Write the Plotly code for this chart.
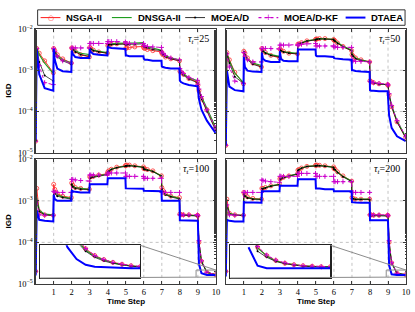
import math
import plotly.graph_objects as go

# ---------------- data (IGD values) ----------------
STEPS = list(range(10))
OFFSETS = [0.0, 0.06, 0.2, 0.5, 0.98]          # sample positions inside each time step
TIME = [s + o for s in STEPS for o in OFFSETS]

ALGOS = ["NSGA-II", "DNSGA-II", "MOEA/D", "MOEA/D-KF", "DTAEA"]
TAUS = [25, 50, 100, 200]
XTICKS = [1, 2, 3, 4, 5, 6, 7, 8, 9, 10]
YTICKS = [1e-5, 1e-4, 1e-3, 1e-2]
YTICK_TEXT = ["10<sup>−5</sup>", "10<sup>−4</sup>", "10<sup>−3</sup>", "10<sup>−2</sup>"]

# tau_t = 25
NSGA2_T25 = [
    [1.9e-5, 3.4e-3, 2.6e-3, 1.7e-3, 8.7e-4], [3.4e-3, 3.0e-3, 2.4e-3, 1.9e-3, 1.5e-3],
    [3.5e-3, 3.3e-3, 2.9e-3, 2.4e-3, 2.1e-3], [3.6e-3, 3.4e-3, 3.1e-3, 2.8e-3, 2.6e-3],
    [4.0e-3, 4.1e-3, 4.3e-3, 4.4e-3, 4.5e-3], [3.4e-3, 3.5e-3, 3.6e-3, 3.7e-3, 3.8e-3],
    [3.5e-3, 3.4e-3, 3.2e-3, 3.0e-3, 2.8e-3], [2.6e-3, 2.4e-3, 2.1e-3, 1.9e-3, 1.7e-3],
    [9.5e-4, 8.8e-4, 8.0e-4, 6.3e-4, 5.2e-4], [4.3e-4, 3.2e-4, 2.0e-4, 1.1e-4, 3.8e-5]]
DNSGA2_T25 = [
    [1.9e-5, 3.4e-3, 2.4e-3, 1.5e-3, 8.3e-4], [3.4e-3, 3.0e-3, 2.3e-3, 1.8e-3, 1.5e-3],
    [3.5e-3, 3.3e-3, 3.0e-3, 2.6e-3, 2.4e-3], [3.5e-3, 3.4e-3, 3.1e-3, 2.9e-3, 2.7e-3],
    [4.3e-3, 4.3e-3, 4.4e-3, 4.5e-3, 4.6e-3], [4.4e-3, 4.5e-3, 4.6e-3, 4.6e-3, 4.7e-3],
    [4.0e-3, 3.9e-3, 3.7e-3, 3.5e-3, 3.1e-3], [2.8e-3, 2.6e-3, 2.3e-3, 2.0e-3, 1.8e-3],
    [1.0e-3, 9.2e-4, 8.2e-4, 6.6e-4, 5.6e-4], [4.6e-4, 3.5e-4, 2.3e-4, 1.2e-4, 4.2e-5]]
MOEAD_T25 = [
    [1.9e-5, 3.4e-3, 1.6e-3, 7.5e-4, 5.5e-4], [3.4e-3, 2.8e-3, 2.1e-3, 1.7e-3, 1.4e-3],
    [3.5e-3, 3.2e-3, 2.8e-3, 2.4e-3, 2.2e-3], [3.5e-3, 3.3e-3, 3.0e-3, 2.8e-3, 2.6e-3],
    [4.2e-3, 4.2e-3, 4.2e-3, 4.3e-3, 4.3e-3], [4.1e-3, 4.2e-3, 4.3e-3, 4.3e-3, 4.4e-3],
    [3.8e-3, 3.7e-3, 3.5e-3, 3.2e-3, 3.0e-3], [2.6e-3, 2.4e-3, 2.1e-3, 1.9e-3, 1.7e-3],
    [9.5e-4, 8.6e-4, 7.6e-4, 6.1e-4, 5.0e-4], [4.2e-4, 3.2e-4, 2.0e-4, 1.0e-4, 3.5e-5]]
MOEADKF_T25 = [
    [1.9e-5, 3.4e-3, 1.3e-3, 5.0e-4, 4.5e-4], [3.4e-3, 2.9e-3, 2.2e-3, 1.7e-3, 1.5e-3],
    [3.5e-3, 3.5e-3, 3.5e-3, 3.5e-3, 3.5e-3], [4.5e-3, 4.5e-3, 4.5e-3, 4.5e-3, 4.5e-3],
    [5.0e-3, 5.0e-3, 5.0e-3, 5.0e-3, 4.9e-3], [4.5e-3, 4.5e-3, 4.5e-3, 4.5e-3, 4.5e-3],
    [4.0e-3, 3.9e-3, 3.8e-3, 3.7e-3, 3.6e-3], [2.8e-3, 2.6e-3, 2.3e-3, 2.0e-3, 1.8e-3],
    [1.1e-3, 9.6e-4, 8.4e-4, 6.7e-4, 5.7e-4], [4.6e-4, 3.5e-4, 2.3e-4, 1.1e-4, 4.0e-5]]
DTAEA_T25 = [
    [1.9e-5, 3.2e-3, 8.0e-4, 3.7e-4, 3.2e-4], [3.3e-3, 1.8e-3, 1.1e-3, 9.5e-4, 9.1e-4],
    [3.0e-3, 2.5e-3, 2.1e-3, 2.0e-3, 2.0e-3], [3.3e-3, 2.8e-3, 2.5e-3, 2.4e-3, 2.3e-3],
    [3.8e-3, 3.6e-3, 3.5e-3, 3.4e-3, 3.3e-3], [2.3e-3, 2.3e-3, 2.2e-3, 2.2e-3, 2.2e-3],
    [1.9e-3, 1.8e-3, 1.8e-3, 1.7e-3, 1.7e-3], [1.25e-3, 1.2e-3, 1.15e-3, 1.1e-3, 1.1e-3],
    [5.6e-4, 5.2e-4, 4.8e-4, 4.4e-4, 4.1e-4], [3.0e-4, 2.0e-4, 1.1e-4, 6.0e-5, 3.0e-5]]

# tau_t = 50
NSGA2_T50 = [
    [1.5e-5, 2.7e-3, 1.8e-3, 9.0e-4, 4.7e-4], [2.9e-3, 2.6e-3, 2.0e-3, 1.5e-3, 1.2e-3],
    [3.4e-3, 3.1e-3, 2.7e-3, 2.3e-3, 2.0e-3], [3.3e-3, 3.1e-3, 2.9e-3, 2.6e-3, 2.5e-3],
    [4.3e-3, 4.4e-3, 4.7e-3, 5.2e-3, 5.6e-3], [5.7e-3, 5.8e-3, 5.9e-3, 5.9e-3, 5.6e-3],
    [5.4e-3, 5.2e-3, 4.6e-3, 3.8e-3, 3.0e-3], [2.4e-3, 2.2e-3, 2.0e-3, 1.8e-3, 1.6e-3],
    [5.6e-4, 5.3e-4, 5.0e-4, 4.7e-4, 4.5e-4], [4.3e-4, 2.5e-4, 1.3e-4, 5.6e-5, 2.3e-5]]
DNSGA2_T50 = [
    [1.5e-5, 2.6e-3, 1.7e-3, 8.5e-4, 5.0e-4], [2.8e-3, 2.5e-3, 1.9e-3, 1.5e-3, 1.3e-3],
    [3.2e-3, 3.0e-3, 2.7e-3, 2.4e-3, 2.2e-3], [3.2e-3, 3.0e-3, 2.8e-3, 2.7e-3, 2.6e-3],
    [4.3e-3, 4.4e-3, 4.7e-3, 5.2e-3, 5.6e-3], [5.7e-3, 5.8e-3, 5.9e-3, 5.9e-3, 5.7e-3],
    [5.4e-3, 5.2e-3, 4.7e-3, 3.9e-3, 3.1e-3], [2.5e-3, 2.3e-3, 2.0e-3, 1.8e-3, 1.6e-3],
    [5.8e-4, 5.4e-4, 5.0e-4, 4.8e-4, 4.6e-4], [4.4e-4, 2.6e-4, 1.4e-4, 6.0e-5, 2.4e-5]]
MOEAD_T50 = [
    [1.5e-5, 2.6e-3, 1.5e-3, 7.0e-4, 4.8e-4], [2.8e-3, 2.4e-3, 1.8e-3, 1.4e-3, 1.2e-3],
    [3.2e-3, 2.9e-3, 2.6e-3, 2.3e-3, 2.1e-3], [3.2e-3, 3.0e-3, 2.8e-3, 2.6e-3, 2.5e-3],
    [4.2e-3, 4.3e-3, 4.6e-3, 5.1e-3, 5.5e-3], [5.6e-3, 5.7e-3, 5.8e-3, 5.8e-3, 5.6e-3],
    [5.3e-3, 5.1e-3, 4.5e-3, 3.7e-3, 3.0e-3], [2.4e-3, 2.2e-3, 1.9e-3, 1.7e-3, 1.6e-3],
    [5.6e-4, 5.2e-4, 4.9e-4, 4.6e-4, 4.5e-4], [4.3e-4, 2.5e-4, 1.3e-4, 5.5e-5, 2.3e-5]]
MOEADKF_T50 = [
    [1.5e-5, 2.5e-3, 1.2e-3, 5.5e-4, 4.8e-4], [2.7e-3, 2.2e-3, 1.8e-3, 1.6e-3, 1.6e-3],
    [3.4e-3, 3.4e-3, 3.4e-3, 3.4e-3, 3.3e-3], [4.1e-3, 4.1e-3, 4.1e-3, 4.1e-3, 4.1e-3],
    [4.1e-3, 4.2e-3, 4.3e-3, 4.4e-3, 4.5e-3], [3.9e-3, 3.9e-3, 3.9e-3, 3.9e-3, 3.9e-3],
    [3.7e-3, 3.7e-3, 3.6e-3, 3.6e-3, 3.6e-3], [1.7e-3, 1.7e-3, 1.65e-3, 1.65e-3, 1.6e-3],
    [5.4e-4, 5.2e-4, 5.0e-4, 4.8e-4, 4.6e-4], [4.4e-4, 2.7e-4, 1.4e-4, 6.0e-5, 2.5e-5]]
DTAEA_T50 = [
    [1.5e-5, 1.0e-3, 4.0e-4, 3.3e-4, 3.1e-4], [2.1e-3, 1.2e-3, 9.8e-4, 9.3e-4, 9.1e-4],
    [2.7e-3, 1.9e-3, 1.7e-3, 1.6e-3, 1.6e-3], [2.9e-3, 1.9e-3, 1.7e-3, 1.65e-3, 1.65e-3],
    [3.2e-3, 3.2e-3, 3.2e-3, 3.2e-3, 3.2e-3], [2.3e-3, 2.2e-3, 2.2e-3, 2.2e-3, 2.1e-3],
    [2.0e-3, 1.95e-3, 1.9e-3, 1.85e-3, 1.8e-3], [1.0e-3, 1.0e-3, 9.6e-4, 9.3e-4, 9.1e-4],
    [3.3e-4, 3.2e-4, 3.2e-4, 3.1e-4, 3.1e-4], [2.0e-4, 8.0e-5, 4.0e-5, 2.5e-5, 1.9e-5]]

# tau_t = 100
NSGA2_T100 = [
    [2.0e-5, 2.0e-3, 5.5e-4, 4.6e-4, 4.5e-4], [2.5e-3, 1.9e-3, 1.5e-3, 1.3e-3, 1.2e-3],
    [2.7e-3, 2.4e-3, 2.1e-3, 2.0e-3, 1.9e-3], [3.8e-3, 3.8e-3, 3.9e-3, 4.2e-3, 4.5e-3],
    [5.0e-3, 5.3e-3, 5.8e-3, 6.5e-3, 7.0e-3], [7.2e-3, 7.3e-3, 7.3e-3, 7.0e-3, 6.6e-3],
    [6.0e-3, 5.9e-3, 5.7e-3, 5.3e-3, 4.0e-3], [2.1e-3, 1.8e-3, 1.5e-3, 1.3e-3, 1.2e-3],
    [4.8e-4, 4.7e-4, 4.6e-4, 4.6e-4, 4.5e-4], [4.4e-4, 1.0e-4, 3.5e-5, 1.9e-5, 1.66e-5]]
DNSGA2_T100 = [
    [2.0e-5, 1.2e-3, 6.0e-4, 4.8e-4, 4.6e-4], [1.8e-3, 1.6e-3, 1.4e-3, 1.25e-3, 1.15e-3],
    [2.6e-3, 2.3e-3, 2.1e-3, 2.0e-3, 1.9e-3], [3.7e-3, 3.7e-3, 3.8e-3, 4.1e-3, 4.4e-3],
    [5.0e-3, 5.3e-3, 5.8e-3, 6.4e-3, 6.9e-3], [7.0e-3, 7.1e-3, 7.1e-3, 6.9e-3, 6.5e-3],
    [5.9e-3, 5.8e-3, 5.6e-3, 5.2e-3, 4.0e-3], [2.0e-3, 1.7e-3, 1.45e-3, 1.3e-3, 1.15e-3],
    [4.7e-4, 4.6e-4, 4.6e-4, 4.5e-4, 4.5e-4], [4.4e-4, 1.0e-4, 3.5e-5, 1.9e-5, 1.66e-5]]
MOEAD_T100 = [
    [2.0e-5, 1.0e-3, 5.5e-4, 4.6e-4, 4.4e-4], [1.7e-3, 1.5e-3, 1.3e-3, 1.2e-3, 1.1e-3],
    [2.5e-3, 2.2e-3, 2.0e-3, 1.9e-3, 1.85e-3], [3.6e-3, 3.6e-3, 3.7e-3, 4.0e-3, 4.3e-3],
    [4.9e-3, 5.2e-3, 5.7e-3, 6.3e-3, 6.8e-3], [6.9e-3, 7.0e-3, 7.0e-3, 6.8e-3, 6.4e-3],
    [5.8e-3, 5.7e-3, 5.5e-3, 5.1e-3, 3.9e-3], [1.9e-3, 1.65e-3, 1.4e-3, 1.25e-3, 1.1e-3],
    [4.6e-4, 4.5e-4, 4.5e-4, 4.4e-4, 4.4e-4], [4.3e-4, 9.5e-5, 3.4e-5, 1.9e-5, 1.66e-5]]
MOEADKF_T100 = [
    [2.0e-5, 1.0e-3, 4.6e-4, 4.5e-4, 4.5e-4], [1.7e-3, 1.6e-3, 1.6e-3, 1.6e-3, 1.6e-3],
    [3.3e-3, 3.3e-3, 3.2e-3, 3.1e-3, 3.0e-3], [4.2e-3, 4.2e-3, 4.2e-3, 4.2e-3, 4.2e-3],
    [4.7e-3, 4.7e-3, 4.7e-3, 4.7e-3, 4.7e-3], [3.9e-3, 3.9e-3, 3.9e-3, 3.9e-3, 3.9e-3],
    [3.5e-3, 3.5e-3, 3.5e-3, 3.5e-3, 3.5e-3], [1.6e-3, 1.6e-3, 1.6e-3, 1.6e-3, 1.6e-3],
    [4.6e-4, 4.6e-4, 4.6e-4, 4.6e-4, 4.6e-4], [4.4e-4, 1.1e-4, 3.6e-5, 1.9e-5, 1.67e-5]]
DTAEA_T100 = [
    [1.6e-5, 5.9e-4, 3.5e-4, 3.3e-4, 3.2e-4], [1.4e-3, 1.1e-3, 1.0e-3, 1.0e-3, 1.0e-3],
    [1.8e-3, 1.7e-3, 1.65e-3, 1.6e-3, 1.6e-3], [2.5e-3, 2.5e-3, 2.5e-3, 2.5e-3, 2.5e-3],
    [3.5e-3, 3.5e-3, 3.5e-3, 3.5e-3, 3.5e-3], [2.0e-3, 2.0e-3, 2.0e-3, 2.0e-3, 1.95e-3],
    [1.75e-3, 1.75e-3, 1.7e-3, 1.7e-3, 1.7e-3], [1.0e-3, 1.0e-3, 1.0e-3, 1.0e-3, 1.0e-3],
    [3.4e-4, 3.4e-4, 3.4e-4, 3.4e-4, 3.3e-4], [3.2e-4, 3.0e-5, 1.8e-5, 1.64e-5, 1.63e-5]]

# tau_t = 200
NSGA2_T200 = [
    [2.0e-5, 1.1e-3, 5.0e-4, 4.6e-4, 4.5e-4], [1.6e-3, 1.4e-3, 1.25e-3, 1.15e-3, 1.1e-3],
    [2.0e-3, 2.0e-3, 2.1e-3, 2.3e-3, 2.5e-3], [3.4e-3, 3.5e-3, 3.7e-3, 4.0e-3, 4.5e-3],
    [5.5e-3, 5.7e-3, 6.2e-3, 6.8e-3, 7.2e-3], [7.2e-3, 7.3e-3, 7.2e-3, 7.0e-3, 6.6e-3],
    [6.0e-3, 5.8e-3, 5.0e-3, 4.0e-3, 3.0e-3], [1.2e-3, 1.15e-3, 1.1e-3, 1.1e-3, 1.1e-3],
    [4.6e-4, 4.6e-4, 4.5e-4, 4.5e-4, 4.5e-4], [4.4e-4, 1.0e-4, 3.2e-5, 1.8e-5, 1.66e-5]]
DNSGA2_T200 = [
    [2.0e-5, 8.3e-4, 5.0e-4, 4.6e-4, 4.5e-4], [1.5e-3, 1.35e-3, 1.2e-3, 1.12e-3, 1.1e-3],
    [2.0e-3, 2.0e-3, 2.1e-3, 2.3e-3, 2.5e-3], [3.4e-3, 3.5e-3, 3.7e-3, 4.0e-3, 4.5e-3],
    [5.5e-3, 5.7e-3, 6.2e-3, 6.8e-3, 7.1e-3], [7.1e-3, 7.2e-3, 7.1e-3, 6.9e-3, 6.5e-3],
    [5.9e-3, 5.7e-3, 4.9e-3, 3.9e-3, 3.0e-3], [1.2e-3, 1.15e-3, 1.1e-3, 1.1e-3, 1.1e-3],
    [4.6e-4, 4.5e-4, 4.5e-4, 4.5e-4, 4.5e-4], [4.4e-4, 1.0e-4, 3.2e-5, 1.8e-5, 1.66e-5]]
MOEAD_T200 = [
    [2.0e-5, 8.0e-4, 4.8e-4, 4.5e-4, 4.4e-4], [1.45e-3, 1.3e-3, 1.18e-3, 1.1e-3, 1.08e-3],
    [1.95e-3, 1.95e-3, 2.05e-3, 2.25e-3, 2.45e-3], [3.3e-3, 3.4e-3, 3.6e-3, 3.9e-3, 4.4e-3],
    [5.4e-3, 5.6e-3, 6.1e-3, 6.7e-3, 7.0e-3], [7.0e-3, 7.1e-3, 7.0e-3, 6.8e-3, 6.4e-3],
    [5.8e-3, 5.6e-3, 4.8e-3, 3.8e-3, 2.9e-3], [1.18e-3, 1.13e-3, 1.08e-3, 1.08e-3, 1.08e-3],
    [4.5e-4, 4.4e-4, 4.4e-4, 4.4e-4, 4.4e-4], [4.3e-4, 9.5e-5, 3.1e-5, 1.8e-5, 1.66e-5]]
MOEADKF_T200 = [
    [2.0e-5, 8.0e-4, 4.6e-4, 4.5e-4, 4.5e-4], [1.6e-3, 1.6e-3, 1.6e-3, 1.6e-3, 1.6e-3],
    [3.2e-3, 3.1e-3, 3.0e-3, 2.9e-3, 2.8e-3], [3.9e-3, 3.9e-3, 3.9e-3, 3.9e-3, 3.9e-3],
    [4.6e-3, 4.6e-3, 4.6e-3, 4.6e-3, 4.6e-3], [3.9e-3, 3.9e-3, 3.9e-3, 3.9e-3, 3.9e-3],
    [2.9e-3, 2.9e-3, 2.9e-3, 2.9e-3, 2.9e-3], [1.6e-3, 1.6e-3, 1.6e-3, 1.6e-3, 1.6e-3],
    [4.6e-4, 4.6e-4, 4.6e-4, 4.6e-4, 4.6e-4], [4.4e-4, 1.1e-4, 3.3e-5, 1.8e-5, 1.67e-5]]
DTAEA_T200 = [
    [1.5e-5, 3.5e-4, 3.3e-4, 3.2e-4, 3.2e-4], [9.5e-4, 9.3e-4, 9.2e-4, 9.1e-4, 9.0e-4],
    [1.7e-3, 1.7e-3, 1.7e-3, 1.7e-3, 1.7e-3], [2.3e-3, 2.3e-3, 2.3e-3, 2.3e-3, 2.3e-3],
    [3.3e-3, 3.3e-3, 3.3e-3, 3.3e-3, 3.3e-3], [2.0e-3, 2.0e-3, 2.0e-3, 1.9e-3, 1.9e-3],
    [1.7e-3, 1.7e-3, 1.7e-3, 1.7e-3, 1.7e-3], [9.3e-4, 9.2e-4, 9.1e-4, 9.0e-4, 9.0e-4],
    [3.4e-4, 3.4e-4, 3.4e-4, 3.4e-4, 3.4e-4], [3.2e-4, 2.8e-5, 1.7e-5, 1.63e-5, 1.63e-5]]

# zoomed insets (last time step, tau_t = 100 and 200)
INSET_T = [9.1, 9.2, 9.3, 9.4, 9.5, 9.6, 9.7, 9.8, 9.9, 10.0]
INSET_X_RANGE = [8.9, 10.0]
INSET_Y_RANGE = [1.45e-5, 2.15e-5]
INSET_NSGA2_T100 = [4.2e-5, 2.9e-5, 2.35e-5, 2.06e-5, 1.9e-5, 1.81e-5, 1.75e-5, 1.71e-5, 1.68e-5, 1.66e-5]
INSET_DNSGA2_T100 = [4.1e-5, 2.85e-5, 2.3e-5, 2.03e-5, 1.88e-5, 1.8e-5, 1.74e-5, 1.7e-5, 1.68e-5, 1.66e-5]
INSET_MOEAD_T100 = [3.8e-5, 2.7e-5, 2.25e-5, 2.0e-5, 1.86e-5, 1.78e-5, 1.73e-5, 1.7e-5, 1.67e-5, 1.66e-5]
INSET_MOEADKF_T100 = [4.2e-5, 2.9e-5, 2.36e-5, 2.07e-5, 1.9e-5, 1.81e-5, 1.75e-5, 1.71e-5, 1.68e-5, 1.67e-5]
INSET_DTAEA_T100 = [2.8e-5, 2.1e-5, 1.82e-5, 1.7e-5, 1.66e-5, 1.65e-5, 1.64e-5, 1.64e-5, 1.63e-5, 1.63e-5]
INSET_NSGA2_T200 = [3.3e-5, 2.1e-5, 1.9e-5, 1.79e-5, 1.73e-5, 1.7e-5, 1.68e-5, 1.67e-5, 1.66e-5, 1.66e-5]
INSET_DNSGA2_T200 = [3.2e-5, 2.08e-5, 1.89e-5, 1.78e-5, 1.73e-5, 1.7e-5, 1.68e-5, 1.67e-5, 1.66e-5, 1.66e-5]
INSET_MOEAD_T200 = [3.0e-5, 2.0e-5, 1.86e-5, 1.77e-5, 1.72e-5, 1.69e-5, 1.67e-5, 1.66e-5, 1.66e-5, 1.65e-5]
INSET_MOEADKF_T200 = [3.3e-5, 2.12e-5, 1.91e-5, 1.8e-5, 1.74e-5, 1.7e-5, 1.68e-5, 1.67e-5, 1.66e-5, 1.66e-5]
INSET_DTAEA_T200 = [2.1e-5, 1.68e-5, 1.63e-5, 1.63e-5, 1.63e-5, 1.63e-5, 1.63e-5, 1.63e-5, 1.63e-5, 1.63e-5]

# ---------------- styling / layout ----------------
W, H = 415, 312
RED, GREEN, BLACK, MAG, BLUE = "#ff3030", "#1f9e1f", "#000000", "#cc00cc", "#0000ff"
STYLE = {
    "NSGA-II": dict(mode="lines+markers", line=dict(color=RED, width=1),
                    marker=dict(symbol="circle-open", size=4, color=RED, line=dict(width=0.8, color=RED))),
    "DNSGA-II": dict(mode="lines", line=dict(color=GREEN, width=1.1)),
    "MOEA/D": dict(mode="lines+markers", line=dict(color=BLACK, width=0.7),
                   marker=dict(symbol="circle", size=2, color=BLACK)),
    "MOEA/D-KF": dict(mode="lines+markers", line=dict(color=MAG, width=1, dash="dot"),
                      marker=dict(symbol="cross-thin-open", size=3.5, color=MAG, line=dict(width=1, color=MAG))),
    "DTAEA": dict(mode="lines", line=dict(color=BLUE, width=2)),
}
LEGEND_GLYPH = {"NSGA-II": ("○", RED, 7), "MOEA/D": ("•", BLACK, 7), "MOEA/D-KF": ("+", MAG, 8)}
LEGEND_DASH = {"MOEA/D-KF": "dot"}
LEGEND_WIDTH = {"DTAEA": 2, "MOEA/D": 0.8}

# legend box and entry positions (pixels)
LEGEND_BOX = [38, 4, 409, 20]
LEGEND_SYM_X = [41, 113, 187, 261, 349]
LEGEND_SYM_LEN = 20
LEGEND_TEXT_GAP = 4


def px_x(p):
    return p / W


def px_y(p):
    return 1 - p / H


LEFT_DOM = [px_x(36), px_x(218)]
RIGHT_DOM = [px_x(228), px_x(410)]
TOP_DOM = [px_y(152), px_y(24)]
BOT_DOM = [px_y(288), px_y(159)]

PANELS = [
    dict(tau=25, n="", xd=LEFT_DOM, yd=TOP_DOM, ylab=True, xlab=False,
         series=[NSGA2_T25, DNSGA2_T25, MOEAD_T25, MOEADKF_T25, DTAEA_T25]),
    dict(tau=50, n="2", xd=RIGHT_DOM, yd=TOP_DOM, ylab=False, xlab=False,
         series=[NSGA2_T50, DNSGA2_T50, MOEAD_T50, MOEADKF_T50, DTAEA_T50]),
    dict(tau=100, n="3", xd=LEFT_DOM, yd=BOT_DOM, ylab=True, xlab=True,
         series=[NSGA2_T100, DNSGA2_T100, MOEAD_T100, MOEADKF_T100, DTAEA_T100],
         inset=[INSET_NSGA2_T100, INSET_DNSGA2_T100, INSET_MOEAD_T100, INSET_MOEADKF_T100, INSET_DTAEA_T100],
         inset_n="5"),
    dict(tau=200, n="4", xd=RIGHT_DOM, yd=BOT_DOM, ylab=False, xlab=True,
         series=[NSGA2_T200, DNSGA2_T200, MOEAD_T200, MOEADKF_T200, DTAEA_T200],
         inset=[INSET_NSGA2_T200, INSET_DNSGA2_T200, INSET_MOEAD_T200, INSET_MOEADKF_T200, INSET_DTAEA_T200],
         inset_n="6"),
]

# inset placement as fractions of its host panel
INSET_FX = [0.025, 0.58]
INSET_FY = [0.047, 0.31]

SERIF = "Liberation Serif, DejaVu Serif, serif"
SANS = "Liberation Sans, Arial, sans-serif"
TICKFONT = dict(family=SERIF, size=8.5, color="#000")
AXCOL = "#3a3a3a"
GRIDCOL = "#b4b4b4"
GRIDLINE = dict(color=GRIDCOL, width=0.8, dash="dot")

fig = go.Figure()
layout = dict(width=W, height=H, margin=dict(l=0, r=0, t=0, b=0), autosize=False,
              plot_bgcolor="white", paper_bgcolor="white", showlegend=False)
annotations = []
shapes = []

for pi, p in enumerate(PANELS):
    n = p["n"]
    xa, ya = "x" + n, "y" + n
    # dotted grid (drawn as lower-layer shapes so the inset can cover it)
    for xv in XTICKS[:-1]:
        shapes.append(dict(type="line", xref=xa, yref=ya + " domain", x0=xv, x1=xv, y0=0, y1=1,
                           line=GRIDLINE, layer="below"))
    for yv in YTICKS[1:-1]:
        shapes.append(dict(type="line", xref=xa + " domain", yref=ya, x0=0, x1=1, y0=yv, y1=yv,
                           line=GRIDLINE, layer="below"))
    for ai, algo in enumerate(ALGOS):
        vals = [v for seg in p["series"][ai] for v in seg]
        fig.add_trace(go.Scatter(x=TIME, y=vals, name=algo, xaxis=xa, yaxis=ya,
                                 showlegend=False, hoverinfo="skip", **STYLE[algo]))
    layout["xaxis" + n] = dict(
        domain=p["xd"], anchor=ya, range=[0, 10], tickmode="array", tickvals=XTICKS,
        showticklabels=p["xlab"], tickfont=TICKFONT, ticks="inside", ticklen=3, tickcolor=AXCOL,
        showline=True, linecolor=AXCOL, linewidth=1.2, mirror="allticks",
        showgrid=False, zeroline=False)
    layout["yaxis" + n] = dict(
        domain=p["yd"], anchor=xa, type="log", range=[-5, -2], tickmode="array",
        tickvals=YTICKS, ticktext=YTICK_TEXT, showticklabels=p["ylab"], tickfont=TICKFONT,
        ticks="inside", ticklen=3, tickcolor=AXCOL,
        minor=dict(ticks="inside", ticklen=1.5, tickcolor=AXCOL, showgrid=False),
        showline=True, linecolor=AXCOL, linewidth=1.2, mirror="allticks",
        showgrid=False, zeroline=False)
    annotations.append(dict(
        text="<i>τ</i><sub><i>t</i></sub>=%d" % p["tau"], xref=xa + " domain", yref=ya + " domain",
        x=0.975, y=0.915, xanchor="right", yanchor="middle", showarrow=False,
        font=dict(family=SERIF, size=10, color="#000")))
    if p["ylab"]:
        annotations.append(dict(
            text="<b>IGD</b>", xref="paper", yref="paper", x=px_x(9), y=sum(p["yd"]) / 2,
            textangle=-90, showarrow=False, xanchor="center", yanchor="middle",
            font=dict(family=SANS, size=8, color="#000")))
    if p["xlab"]:
        annotations.append(dict(
            text="<b>Time Step</b>", xref="paper", yref="paper", x=sum(p["xd"]) / 2, y=px_y(306),
            showarrow=False, xanchor="center", yanchor="middle",
            font=dict(family=SANS, size=8, color="#000")))

    if "inset" in p:
        m = p["inset_n"]
        ixa, iya = "x" + m, "y" + m
        # white cover under the inset (hides host grid)
        shapes.append(dict(type="rect", xref=xa + " domain", yref=ya + " domain",
                           x0=INSET_FX[0], x1=INSET_FX[1], y0=INSET_FY[0], y1=INSET_FY[1],
                           fillcolor="white", line=dict(width=0), layer="below"))
        # zoom window in the host panel
        shapes.append(dict(type="rect", xref=xa, yref=ya,
                           x0=INSET_X_RANGE[0], x1=INSET_X_RANGE[1],
                           y0=INSET_Y_RANGE[0], y1=INSET_Y_RANGE[1],
                           line=dict(color="#8c8c8c", width=1), layer="above"))
        wx0 = INSET_X_RANGE[0] / 10.0
        wx1 = INSET_X_RANGE[1] / 10.0
        wy0 = (math.log10(INSET_Y_RANGE[0]) + 5) / 3.0
        wy1 = (math.log10(INSET_Y_RANGE[1]) + 5) / 3.0
        shapes.append(dict(type="line", xref=xa + " domain", yref=ya + " domain",
                           x0=INSET_FX[1], y0=INSET_FY[1], x1=wx1, y1=wy1,
                           line=dict(color="#8c8c8c", width=1), layer="above"))
        shapes.append(dict(type="line", xref=xa + " domain", yref=ya + " domain",
                           x0=INSET_FX[0], y0=INSET_FY[0], x1=wx0, y1=wy0,
                           line=dict(color="#8c8c8c", width=1), layer="above"))
        for ai, algo in enumerate(ALGOS):
            fig.add_trace(go.Scatter(x=INSET_T, y=p["inset"][ai], name=algo, xaxis=ixa, yaxis=iya,
                                     showlegend=False, hoverinfo="skip", **STYLE[algo]))
        dx = p["xd"][1] - p["xd"][0]
        dy = p["yd"][1] - p["yd"][0]
        layout["xaxis" + m] = dict(
            domain=[p["xd"][0] + INSET_FX[0] * dx, p["xd"][0] + INSET_FX[1] * dx], anchor=iya,
            range=INSET_X_RANGE, showticklabels=False, ticks="", showgrid=False, zeroline=False,
            showline=True, linecolor="#222", linewidth=1.3, mirror=True)
        layout["yaxis" + m] = dict(
            domain=[p["yd"][0] + INSET_FY[0] * dy, p["yd"][0] + INSET_FY[1] * dy], anchor=ixa,
            type="log", range=[math.log10(INSET_Y_RANGE[0]), math.log10(INSET_Y_RANGE[1])],
            showticklabels=False, ticks="", showgrid=False, zeroline=False,
            showline=True, linecolor="#222", linewidth=1.3, mirror=True)

# ---------------- legend (drawn by hand to match the compact box) ----------------
shapes.append(dict(type="rect", xref="paper", yref="paper",
                   x0=px_x(LEGEND_BOX[0]), x1=px_x(LEGEND_BOX[2]),
                   y0=px_y(LEGEND_BOX[3]), y1=px_y(LEGEND_BOX[1]),
                   line=dict(color="#333", width=1), fillcolor="white", layer="above"))
ly = px_y((LEGEND_BOX[1] + LEGEND_BOX[3]) / 2)
for algo, sx in zip(ALGOS, LEGEND_SYM_X):
    st = STYLE[algo]["line"]
    shapes.append(dict(type="line", xref="paper", yref="paper",
                       x0=px_x(sx), x1=px_x(sx + LEGEND_SYM_LEN), y0=ly, y1=ly, layer="above",
                       line=dict(color=st["color"], width=LEGEND_WIDTH.get(algo, 1.1),
                                 dash=LEGEND_DASH.get(algo, "solid"))))
    if algo in LEGEND_GLYPH:
        g, c, s = LEGEND_GLYPH[algo]
        annotations.append(dict(text=g, xref="paper", yref="paper", x=px_x(sx + LEGEND_SYM_LEN / 2),
                                y=ly, xanchor="center", yanchor="middle", showarrow=False,
                                font=dict(family="DejaVu Sans", size=s, color=c)))
    annotations.append(dict(text="<b>%s</b>" % algo, xref="paper", yref="paper",
                            x=px_x(sx + LEGEND_SYM_LEN + LEGEND_TEXT_GAP), y=ly,
                            xanchor="left", yanchor="middle", showarrow=False,
                            font=dict(family=SANS, size=9.5, color="#000")))

layout["annotations"] = annotations
layout["shapes"] = shapes
fig.update_layout(**layout)

# remove the page's default body margin so the 415x312 figure fills the window exactly
fig.write_html("out.html",
               config={"displayModeBar": False, "staticPlot": True},
               post_script="document.body.style.margin='0';document.body.style.padding='0';")
